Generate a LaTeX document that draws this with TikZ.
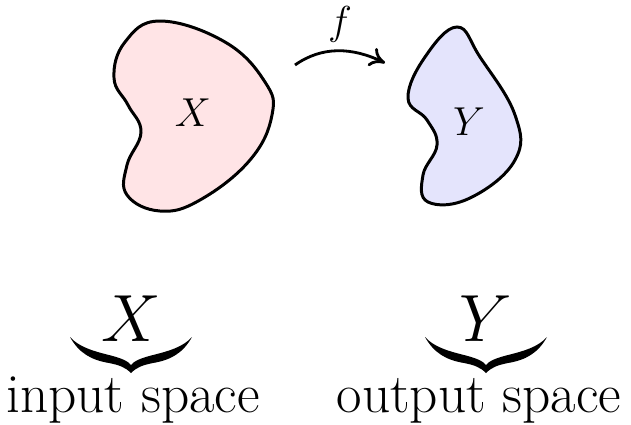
\RequirePackage{fix-cm}
\documentclass[tikz,border=0pt]{standalone}
\usepackage{amsmath}
\usetikzlibrary{arrows.meta}
\definecolor{spaceRed}{RGB}{255,228,230}
\definecolor{spaceBlue}{RGB}{228,228,252}
\tikzset{
  blob/.style={draw=black, line width=1.7pt},
  blobtext/.style={inner sep=0pt, font=\fontsize{23}{27}\selectfont},
  bigmath/.style={inner sep=0pt, font=\fontsize{38}{45}\selectfont},
  spacetext/.style={inner sep=0pt, font=\fontsize{31.5}{37}\selectfont},
  maparrow/.style={-{To[length=3mm, width=4mm]}, line width=1.6pt},
  % heavy underbrace, origin at its lower tip
  spacebrace/.pic={
    \fill (0,0) .. controls (-6,-6) and (-12,-8) .. (-22,-10)
      .. controls (-40,-13) and (-52,-20) .. (-61,-36)
      .. controls (-52,-26) and (-38,-22) .. (-22,-18)
      .. controls (-10,-15) and (-3,-12) .. (0,-8)
      .. controls (3,-12) and (10,-15) .. (22,-18)
      .. controls (38,-22) and (52,-26) .. (61,-36)
      .. controls (52,-20) and (40,-13) .. (22,-10)
      .. controls (12,-8) and (6,-6) .. (0,0) -- cycle;
  }
}

\begin{document}
\begin{tikzpicture}[x=0.02cm, y=-0.02cm]
\useasboundingbox (0,0) rectangle (631,424);
% the two spaces
\draw[blob, fill=spaceRed] plot[smooth cycle, tension=0.7] coordinates
  {(160,21) (225,42) (265,82) (272,115) (250,160) (200,200) (160,211)
   (127,195) (127,165) (141,132) (128,105) (114,78) (125,42)};
\node[blobtext] (lblX) at (193,113) {$X$};
\draw[blob, fill=spaceBlue] plot[smooth cycle, tension=0.7] coordinates
  {(457,27) (425,57) (408,98) (427,120) (437,145) (423,175) (428,202)
   (470,198) (515,160) (515,115) (480,57)};
\node[blobtext] (lblY) at (469,122) {$Y$};
% the map
\coordinate (fstart) at (295,65);
\coordinate (fend) at (385,63);
\draw[maparrow] (fstart) .. controls (322,46) and (352,47) .. (fend);
\node[blobtext] (lblf) at (340,24) {$f$};
% names under the spaces
\node[bigmath, anchor=base] (setX) at (131,341) {$X$};
\pic (braceX) at (131,373) {spacebrace};
\node[spacetext, anchor=base] (nameX) at (133,412) {input space};
\node[bigmath, anchor=base] (setY) at (486,341) {$Y$};
\pic (braceY) at (486,373) {spacebrace};
\node[spacetext, anchor=base] (nameY) at (479,412) {output space};
\end{tikzpicture}
\end{document}
